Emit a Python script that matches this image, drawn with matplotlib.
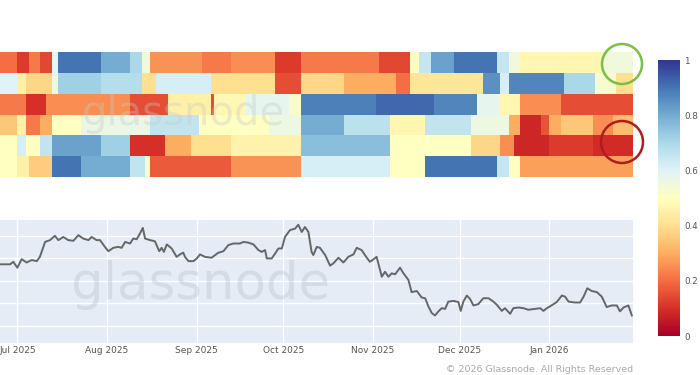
import datetime as dt

import matplotlib
matplotlib.use("Agg")
import matplotlib.pyplot as plt
import matplotlib.dates as mdates
import numpy as np
from matplotlib.patches import Ellipse

# --- data -----------------------------------------------------------------
start = dt.date(2025, 6, 25)
n_days = 219

# heatmap rows, run-length encoded: (number of days, value in [0, 1])
row1 = [(6, 0.2), (4, 0.12), (4, 0.22), (4, 0.14), (2, 0.58), (15, 0.9), (10, 0.8),
        (4, 0.7), (3, 0.55), (18, 0.26), (10, 0.22), (15, 0.25), (9, 0.12), (27, 0.22),
        (11, 0.14), (3, 0.5), (4, 0.65), (8, 0.82), (15, 0.9), (4, 0.65), (4, 0.55),
        (28, 0.47), (11, 0.55)]
row2 = [(6, 0.6), (3, 0.45), (9, 0.38), (2, 0.55), (15, 0.72), (14, 0.68), (5, 0.4),
        (19, 0.62), (22, 0.4), (9, 0.15), (15, 0.38), (18, 0.3), (5, 0.2), (25, 0.42),
        (6, 0.85), (3, 0.62), (19, 0.87), (11, 0.7), (7, 0.53), (6, 0.4)]
row3 = [(9, 0.22), (7, 0.1), (29, 0.25), (13, 0.15), (15, 0.45), (1, 0.15), (11, 0.48),
        (15, 0.58), (4, 0.52), (26, 0.88), (20, 0.92), (15, 0.87), (8, 0.58), (7, 0.47),
        (14, 0.25), (25, 0.15)]
row4 = [(6, 0.35), (3, 0.45), (5, 0.22), (4, 0.3), (10, 0.5), (24, 0.57), (17, 0.66),
        (24, 0.5), (11, 0.56), (15, 0.8), (16, 0.67), (12, 0.47), (16, 0.66), (13, 0.56),
        (4, 0.3), (7, 0.08), (3, 0.16), (4, 0.3), (11, 0.35), (7, 0.25), (7, 0.33)]
row5 = [(6, 0.5), (3, 0.62), (5, 0.5), (4, 0.66), (17, 0.82), (10, 0.72), (12, 0.1),
        (9, 0.3), (14, 0.4), (24, 0.46), (31, 0.76), (28, 0.5), (10, 0.38), (5, 0.25),
        (12, 0.08), (15, 0.12), (14, 0.09)]
row6 = [(6, 0.5), (4, 0.45), (8, 0.36), (10, 0.9), (17, 0.8), (5, 0.66), (2, 0.52),
        (28, 0.17), (24, 0.26), (31, 0.62), (12, 0.5), (25, 0.9), (4, 0.65), (4, 0.5),
        (39, 0.28)]
rows = [row1, row2, row3, row4, row5, row6]

# price line (thousands of USD), days since start
price_day = [0, 3.5, 4.6, 6.0, 7.5, 9.2, 11.0, 12.7, 13.8, 15.6, 17.3, 19.0, 20.2, 21.9,
             23.6, 25.4, 27.1, 28.8, 30.6, 31.7, 33.4, 34.6, 36.3, 37.5, 39.2, 40.9, 42.1,
             43.3, 45.0, 46.1, 47.3, 48.4, 49.4, 50.2, 51.9, 53.6, 55.1, 55.9, 56.7, 57.7,
             59.4, 61.1, 62.3, 63.4, 64.0, 65.2, 66.9, 68.1, 69.2, 70.9, 73.2, 75.5, 77.3,
             79.0, 80.7, 83.0, 84.2, 85.9, 87.7, 89.4, 90.5, 91.7, 92.3, 94.0, 95.2, 96.3,
             97.5, 98.6, 100.3, 102.1, 103.2, 104.4, 105.5, 106.7, 107.8, 108.4, 109.6,
             110.7, 112.5, 114.2, 115.3, 117.1, 118.8, 120.5, 122.3, 123.4, 125.1, 126.9,
             128.0, 130.3, 132.1, 133.2, 134.4, 135.5, 136.7, 138.4, 139.6, 141.3, 142.4,
             144.2, 145.9, 147.1, 148.2, 149.4, 150.5, 151.7, 152.8, 154.0, 155.1, 156.9,
             158.6, 159.4, 160.3, 161.5, 162.6, 163.8, 165.5, 167.2, 169.0, 170.7, 171.9,
             173.6, 174.7, 176.5, 177.6, 179.4, 181.1, 182.8, 185.1, 186.9, 188.0, 189.2,
             190.3, 192.6, 194.4, 195.5, 196.7, 199.0, 200.7, 201.9, 203.2, 204.7, 206.5,
             208.2, 209.9, 211.6, 213.4, 214.5, 215.7, 217.4, 218.6]
price = [107.3, 107.3, 108.4, 105.8, 109.6, 108.1, 109.2, 108.7, 110.6, 117.2, 118.0,
         119.9, 118.0, 119.4, 118.0, 117.7, 120.2, 118.7, 118.0, 119.4, 118.0, 118.0,
         115.0, 113.1, 114.6, 115.0, 114.6, 117.2, 116.5, 118.7, 118.4, 120.9, 123.4,
         118.7, 118.0, 117.5, 113.1, 114.6, 112.8, 116.1, 114.3, 110.6, 111.7, 112.5,
         110.6, 108.7, 108.7, 109.9, 111.7, 110.6, 110.2, 112.4, 113.1, 115.8, 116.5,
         116.5, 117.2, 116.9, 116.1, 113.6, 112.8, 113.6, 109.9, 109.9, 112.1, 114.3,
         114.3, 119.4, 122.4, 123.1, 124.8, 121.6, 123.8, 121.6, 112.8, 111.4, 115.0,
         114.6, 111.4, 106.7, 107.7, 110.2, 108.1, 110.6, 111.7, 114.6, 113.6, 110.2,
         108.4, 110.6, 101.8, 104.0, 101.8, 103.3, 102.9, 105.8, 103.3, 100.4, 95.0,
         95.5, 92.6, 92.3, 88.7, 85.7, 84.7, 86.5, 87.9, 87.6, 90.8, 91.1, 90.6, 86.7,
         90.8, 93.5, 92.0, 89.1, 89.7, 92.3, 92.3, 90.8, 89.4, 86.7, 87.9, 85.4, 87.9,
         88.2, 87.9, 87.2, 87.6, 87.9, 86.7, 87.9, 88.7, 90.6, 93.5, 93.0, 90.8, 90.4,
         90.4, 93.0, 96.7, 95.5, 95.0, 93.0, 88.4, 89.1, 89.1, 86.5, 88.2, 89.1, 84.7]

month_ticks = ["2025-07-01", "2025-08-01", "2025-09-01", "2025-10-01",
               "2025-11-01", "2025-12-01", "2026-01-01"]
cbar_ticks = [0, 0.2, 0.4, 0.6, 0.8, 1]

# --- figure ---------------------------------------------------------------
W, H = 700, 375
fig = plt.figure(figsize=(W / 100, H / 100), dpi=100)
fig.patch.set_facecolor("white")


def fx(px):
    return px / W


def fy(py):
    return 1 - py / H


x0 = mdates.date2num(start)
x1 = x0 + n_days

# heatmap
ax_h = fig.add_axes([0, fy(177), fx(633), fy(52) - fy(177)])
grid = np.array([np.repeat([v for _, v in r], [n for n, _ in r]) for r in rows])
edges_x = x0 + np.arange(n_days + 1)
edges_y = np.arange(len(rows) + 1)
mesh = ax_h.pcolormesh(edges_x, edges_y, grid, cmap="RdYlBu", vmin=0, vmax=1,
                       shading="flat")
ax_h.set_xlim(x0, x1)
ax_h.set_ylim(len(rows), 0)
ax_h.set_axis_off()
ax_h.text(0.29, 0.5, "glassnode", transform=ax_h.transAxes, ha="center", va="center",
          fontsize=29, color="#c8c8c8", alpha=0.35)

# line chart
ax_l = fig.add_axes([0, fy(343), fx(633), fy(220) - fy(343)])
ax_l.set_facecolor("#E5ECF6")
dates = [x0 + d for d in price_day]
ax_l.plot(dates, price, color="#666666", linewidth=1.4, zorder=3)
ax_l.set_xlim(x0, x1)
ax_l.set_ylim(72.5, 126.9)
ax_l.set_yticks([80, 90, 100, 110, 120])
ax_l.set_yticklabels([])
ticks = [mdates.date2num(dt.date.fromisoformat(t)) for t in month_ticks]
ax_l.set_xticks(ticks)
ax_l.set_xticklabels([dt.date.fromisoformat(t).strftime("%b %Y") for t in month_ticks],
                     fontsize=6.5, color="#555555")
ax_l.tick_params(axis="both", length=0, pad=2)
ax_l.grid(True, color="white", linewidth=1.0)
ax_l.set_axisbelow(True)
for s in ax_l.spines.values():
    s.set_visible(False)
ax_l.text(0.316, 0.47, "glassnode", transform=ax_l.transAxes, ha="center", va="center",
          fontsize=37, color="#b8bcc4", alpha=0.35, zorder=2)

# colorbar
cax = fig.add_axes([fx(658), fy(336), fx(22), fy(60) - fy(336)])
cb = fig.colorbar(mesh, cax=cax, ticks=cbar_ticks)
cb.outline.set_visible(False)
cb.ax.set_yticklabels(["0", "0.2", "0.4", "0.6", "0.8", "1"])
cb.ax.tick_params(length=0, labelsize=6.3, labelcolor="#555555", pad=3)

# highlight circles
fig.add_artist(Ellipse((fx(622), fy(64)), 2 * 20 / W, 2 * 20 / H, fill=False,
                       edgecolor="#79c044", linewidth=1.8, transform=fig.transFigure))
fig.add_artist(Ellipse((fx(622), fy(142)), 2 * 21 / W, 2 * 21 / H, fill=False,
                       edgecolor="#b01c1c", linewidth=1.8, transform=fig.transFigure))

fig.text(fx(633), fy(369), "\u00a9 2026 Glassnode. All Rights Reserved", ha="right",
         va="center", fontsize=6.8, color="#aaaaaa")

fig.savefig("out.png", dpi=100)
